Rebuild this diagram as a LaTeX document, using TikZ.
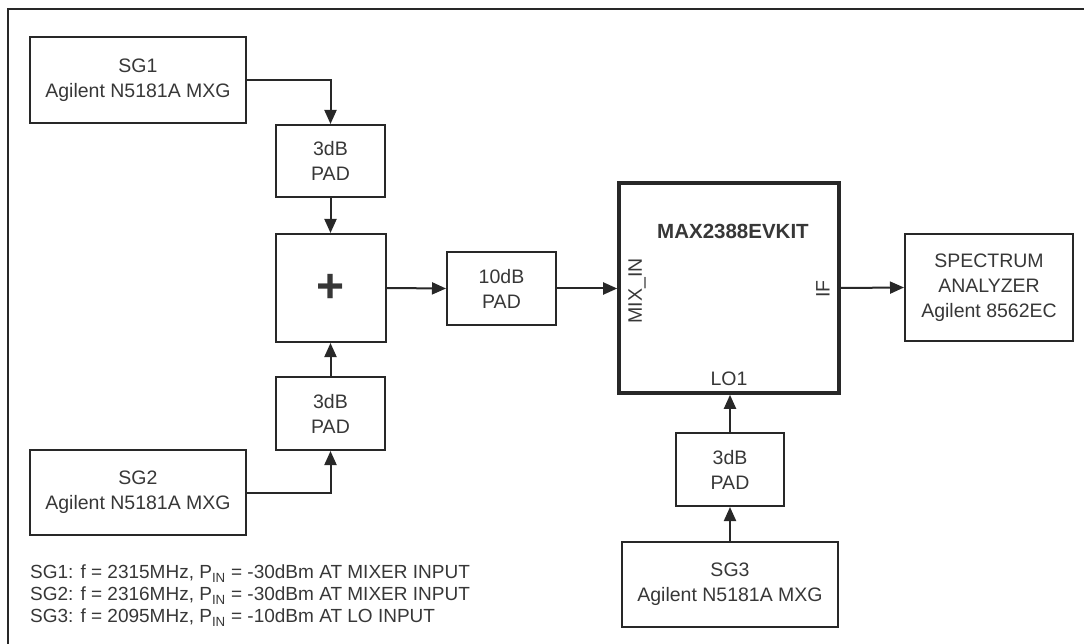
\documentclass[tikz,border=0pt]{standalone}
\usepackage{fontspec}
\setmainfont{Liberation Sans}
\usepackage{tikz}
\usetikzlibrary{arrows.meta, positioning}
\definecolor{linegray}{RGB}{40,40,40}
\definecolor{textgray}{RGB}{55,55,55}

\begin{document}
\begin{tikzpicture}[x=1pt, y=-1pt, >={Triangle[length=14pt,width=12pt]},
    block/.style={draw=linegray, line width=2pt, text=textgray, align=center,
        inner sep=0pt, font=\fontsize{19.5}{25}\selectfont},
    conn/.style={->, draw=linegray, line width=2pt},
    lbl/.style={text=textgray, inner sep=0pt, font=\fontsize{19.5}{24}\selectfont}]
    \useasboundingbox (0,0) rectangle (1084,644);
    \draw[linegray, line width=2.4pt] (8,670) |- (1110,9);
    % generators and pads, left side
    \node[block, minimum width=216pt, minimum height=86pt] (sg1) at (138,80) {SG1\\Agilent N5181A MXG};
    \node[block, minimum width=109pt, minimum height=72pt] (padA) at (330.5,161) {3dB\\PAD};
    \node[block, minimum width=110pt, minimum height=108pt] (sum) at (330.5,288) {\fontsize{48}{48}\selectfont\bfseries +};
    \node[block, minimum width=109pt, minimum height=73pt] (padB) at (330.5,413.5) {3dB\\PAD};
    \node[block, minimum width=216pt, minimum height=85pt] (sg2) at (138,492.5) {SG2\\Agilent N5181A MXG};
    \node[block, minimum width=109pt, minimum height=73pt] (padten) at (501.5,288.5) {10dB\\PAD};
    % mixer board
    \node[block, line width=3.6pt, minimum width=220pt, minimum height=210pt] (max) at (729,288) {};
    \node[lbl, font=\fontsize{20.5}{24}\selectfont\bfseries] (maxname) at (733,231) {MAX2388EVKIT};
    \node[lbl, rotate=90] (mixin) at (637,291) {MIX\_IN};
    \node[lbl, rotate=90] (iflbl) at (823,289) {IF};
    \node[lbl] (lo) at (729,379) {LO1};
    \node[block, minimum width=168pt, minimum height=107pt] (sa) at (989,287.5) {SPECTRUM\\ANALYZER\\Agilent 8562EC};
    \node[block, minimum width=108pt, minimum height=73pt] (padC) at (730,469.5) {3dB\\PAD};
    \node[block, minimum width=216pt, minimum height=85pt] (sg3) at (730,584.5) {SG3\\Agilent N5181A MXG};
    % signal paths
    \draw[conn] (sg1.east) -| (padA.north);
    \draw[conn] (padA.south) -- (sum.north);
    \draw[conn] (sg2.east) -| (padB.south);
    \draw[conn] (padB.north) -- (sum.south);
    \draw[conn] (sum.east) -- (padten.west);
    \draw[conn] (padten.east) -- (padten.east -| max.west);
    \draw[conn] (max.east) -- (sa.west);
    \draw[conn] (sg3.north) -- (padC.south);
    \draw[conn] (padC.north) -- (padC.north |- max.south);
    \node[lbl, anchor=north west, align=left, font=\fontsize{19}{22}\selectfont] (notes) at (30,565)
        {SG1: f = 2315MHz, P\textsubscript{IN} = -30dBm AT MIXER INPUT\\
         SG2: f = 2316MHz, P\textsubscript{IN} = -30dBm AT MIXER INPUT\\
         SG3: f = 2095MHz, P\textsubscript{IN} = -10dBm AT LO INPUT};
\end{tikzpicture}
\end{document}
